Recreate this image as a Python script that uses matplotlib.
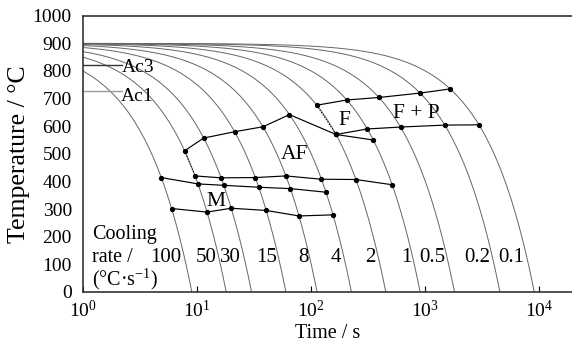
import numpy as np
import matplotlib.pyplot as plt
from matplotlib.ticker import FixedLocator, NullLocator

plt.rcParams['font.family'] = ['Liberation Serif', 'DejaVu Serif']
plt.rcParams['mathtext.fontset'] = 'custom'
plt.rcParams['mathtext.rm'] = 'Liberation Serif'
plt.rcParams['mathtext.it'] = 'Liberation Serif:italic'

# cooling rates (degC/s) and start temperature
T0 = 900
rates = [100, 50, 30, 15, 8, 4, 2, 1, 0.5, 0.2, 0.1]
rate_labels = ['100', '50', '30', '15', '8', '4', '2', '1', '0.5', '0.2', '0.1']
rate_label_t = [5.3, 11.9, 19.7, 41, 85, 163, 331, 682, 1140, 2840, 5620]

Ac3 = 820
Ac1 = 729

# transformation lines (time s, temperature C)
af_t = [7.78, 11.4, 21.3, 37.8, 64.5, 165]
af_T = [511, 557, 580, 598, 642, 570]

fs_t = [112, 205, 392, 900, 1650]
fs_T = [676, 695, 704, 720, 735]

ff_t = [165, 310, 606, 1480, 2950]
ff_T = [570, 590, 597, 604, 605]

knee_t = [165, 350]
knee_T = [570, 550]

b1_t = [9.6, 16.2, 32.4, 60, 123, 246, 512]
b1_T = [420, 413, 414, 420, 408, 407, 388]

b2_t = [4.86, 10.2, 17.1, 34.7, 65.8, 134.8]
b2_T = [414, 391, 386, 379, 374, 361]

ms_t = [5.98, 12.2, 19.9, 40.3, 78.1, 155]
ms_T = [302, 289, 303, 295, 275, 279]

dot1_t = [7.78, 9.6]
dot1_T = [511, 420]
dot2_t = [112, 165]
dot2_T = [676, 570]

fig = plt.figure(figsize=(5.72, 3.5), dpi=100)
ax = fig.add_axes([0.145, 0.166, 0.855, 0.789])

for r in rates:
    t = np.logspace(0, np.log10(T0 / r), 300)
    ax.plot(t, T0 - r * t, color='#666666', lw=0.7)

ax.plot([1, 2.2], [Ac3, Ac3], color='#333333', lw=1.0)
ax.plot([1, 2.2], [Ac1, Ac1], color='#999999', lw=1.0)
ax.text(2.2, Ac3 - 8, 'Ac3', fontsize=14, va='center', ha='left')
ax.text(2.15, Ac1 - 22, 'Ac1', fontsize=14, va='center', ha='left')

for tt, TT in [(af_t, af_T), (fs_t, fs_T), (ff_t, ff_T), (knee_t, knee_T),
               (b1_t, b1_T), (b2_t, b2_T), (ms_t, ms_T)]:
    ax.plot(tt, TT, color='black', lw=0.85, marker='o', ms=2.8)

ax.plot(dot1_t, dot1_T, color='black', lw=0.8, ls=(0, (1, 1.5)))
ax.plot(dot2_t, dot2_T, color='black', lw=0.8, ls=(0, (1, 1.5)))

ax.text(72, 496, 'AF', fontsize=15.5, ha='center', va='center')
ax.text(194, 620, 'F', fontsize=15.5, ha='center', va='center')
ax.text(841, 645, 'F + P', fontsize=15.5, ha='center', va='center')
ax.text(14.7, 327, 'M', fontsize=15.5, ha='center', va='center')

for lab, tl in zip(rate_labels, rate_label_t):
    ax.text(tl, 126, lab, fontsize=15, ha='center', va='center')

ax.text(1.2, 192, 'Cooling', fontsize=14.5, ha='left', va='baseline')
ax.text(1.2, 110, 'rate /', fontsize=14.5, ha='left', va='baseline')
ax.text(1.2, 24, '(°C·s$^{-1}$)', fontsize=14.5, ha='left', va='baseline')

ax.set_xscale('log')
ax.set_xlim(1, 10 ** 4.285)
ax.set_ylim(0, 1000)
ax.xaxis.set_major_locator(FixedLocator([1, 10, 100, 1000, 10000]))
ax.xaxis.set_minor_locator(NullLocator())
ax.set_xticklabels([r'$\mathregular{10^{%d}}$' % i for i in range(5)])
ax.set_yticks(range(0, 1001, 100))
ax.tick_params(axis='x', direction='in', length=4, labelsize=14, pad=6)
ax.tick_params(axis='y', length=0, labelsize=14, pad=8)
ax.spines['right'].set_visible(False)
for s in ['left', 'bottom', 'top']:
    ax.spines[s].set_linewidth(1.2)
    ax.spines[s].set_color('#333333')

ax.set_xlabel('Time / s', fontsize=14.5, labelpad=2)
ax.set_ylabel('Temperature / °C', fontsize=18.5, labelpad=2)

fig.savefig('out.png', dpi=100)
